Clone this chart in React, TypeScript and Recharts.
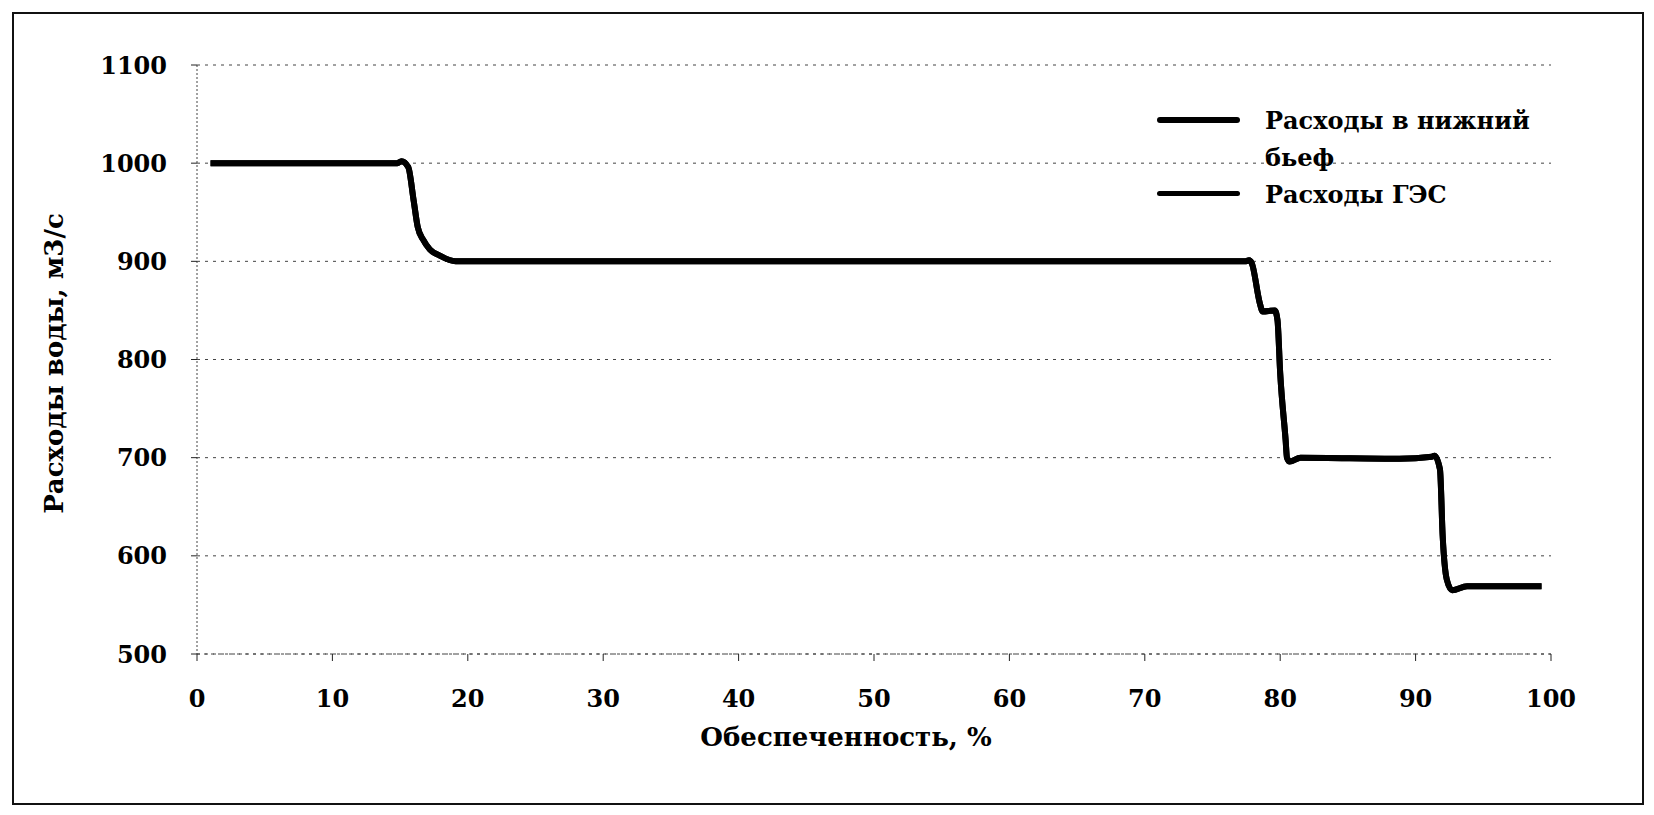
import React from "react";
import {
  CartesianGrid,
  Label,
  Legend,
  Line,
  LineChart,
  XAxis,
  YAxis,
} from "recharts";

// Обеспеченность, % (x) and flow values
const exceedancePct = [
  1.0, 14.8, 15.1, 15.6, 16.0, 16.3, 16.7, 17.2, 17.9, 19.1, 77.4, 77.7, 77.9, 78.5, 78.7, 79.6,
  79.8, 80.0, 80.4, 80.5, 80.7, 81.5, 88.8, 91.2, 91.4, 91.8, 92.0, 92.3, 92.7, 93.8, 99.3,
];
const tailwaterFlow = [
  1000, 1000, 1002, 996, 962, 935, 922, 912, 906, 900, 900, 901, 898, 857, 849, 850,
  840, 786, 718, 700, 696, 700, 699, 701, 702, 688, 620, 576, 565, 569, 569,
];
const hppFlow = [
  1000, 1000, 1002, 996, 962, 935, 922, 912, 906, 900, 900, 901, 898, 857, 849, 850,
  840, 786, 718, 700, 696, 700, 699, 701, 702, 688, 620, 576, 565, 569, 569,
];

const xTicks = [0, 10, 20, 30, 40, 50, 60, 70, 80, 90, 100];
const yTicks = [500, 600, 700, 800, 900, 1000, 1100];

const seriesNames = ["Расходы в нижний бьеф", "Расходы ГЭС"];
const xTitle = "Обеспеченность, %";
const yTitle = "Расходы воды, м3/с";

const FONT = "'DejaVu Serif', 'Liberation Serif', serif";
const W = 1628;
const H = 789;

const rows = exceedancePct.map((p, i) => ({ p, tail: tailwaterFlow[i], hpp: hppFlow[i] }));

const tickStyle = { fontFamily: FONT, fontWeight: "bold", fontSize: 24, fill: "#000" };

function FlowLegend() {
  const widths = [6, 5];
  return (
    <div style={{ fontFamily: FONT, fontWeight: "bold", fontSize: 24, lineHeight: "37px", color: "#000" }}>
      {seriesNames.map((name, i) => (
        <div key={name} style={{ display: "flex", alignItems: "flex-start" }}>
          <span
            style={{
              display: "inline-block",
              width: 83,
              height: widths[i],
              marginTop: 15,
              background: "#000",
              borderRadius: 3,
              flexShrink: 0,
            }}
          />
          <span style={{ marginLeft: 25, width: 310 }}>{name}</span>
        </div>
      ))}
    </div>
  );
}

export default function App() {
  return (
    <div
      style={{
        position: "absolute",
        left: 12,
        top: 12,
        width: W + 4,
        height: H + 4,
        border: "2px solid #111",
        boxSizing: "border-box",
        background: "#fff",
      }}
    >
      <LineChart width={W} height={H} data={rows} margin={{ top: 51, right: 91, bottom: 49, left: 0 }}>
        <CartesianGrid vertical={false} stroke="#444" strokeDasharray="3 5" />
        <XAxis
          dataKey="p"
          type="number"
          domain={[0, 100]}
          ticks={xTicks}
          height={100}
          tick={tickStyle}
          tickSize={7}
          tickMargin={29}
          axisLine={{ stroke: "#444", strokeDasharray: "3 4" }}
          tickLine={{ stroke: "#222" }}
        >
          <Label
            content={({ viewBox }: any) => (
              <text
                x={viewBox.x + viewBox.width / 2 - 28}
                y={viewBox.y + 92}
                textAnchor="middle"
                style={{ fontFamily: FONT, fontWeight: "bold", fontSize: 26, fill: "#000" }}
              >
                {xTitle}
              </text>
            )}
          />
        </XAxis>
        <YAxis
          type="number"
          domain={[500, 1100]}
          ticks={yTicks}
          width={183}
          tick={tickStyle}
          tickSize={6}
          tickMargin={24}
          axisLine={{ stroke: "#444", strokeDasharray: "2 2" }}
          tickLine={{ stroke: "#222" }}
        >
          <Label
            content={({ viewBox }: any) => (
              <text
                transform={`translate(${viewBox.x + 49}, ${viewBox.y + viewBox.height / 2 + 4}) rotate(-90)`}
                textAnchor="middle"
                style={{ fontFamily: FONT, fontWeight: "bold", fontSize: 26, fill: "#000" }}
              >
                {yTitle}
              </text>
            )}
          />
        </YAxis>
        <Legend
          layout="horizontal"
          verticalAlign="middle"
          align="center"
          wrapperStyle={{ top: 88, left: 1143, width: 440 }}
          content={() => <FlowLegend />}
        />
        <Line
          type="monotone"
          dataKey="hpp"
          name={seriesNames[1]}
          stroke="#000"
          strokeWidth={6}
          dot={false}
          isAnimationActive={false}
        />
        <Line
          type="monotone"
          dataKey="tail"
          name={seriesNames[0]}
          stroke="#000"
          strokeWidth={6}
          dot={false}
          isAnimationActive={false}
        />
      </LineChart>
    </div>
  );
}
